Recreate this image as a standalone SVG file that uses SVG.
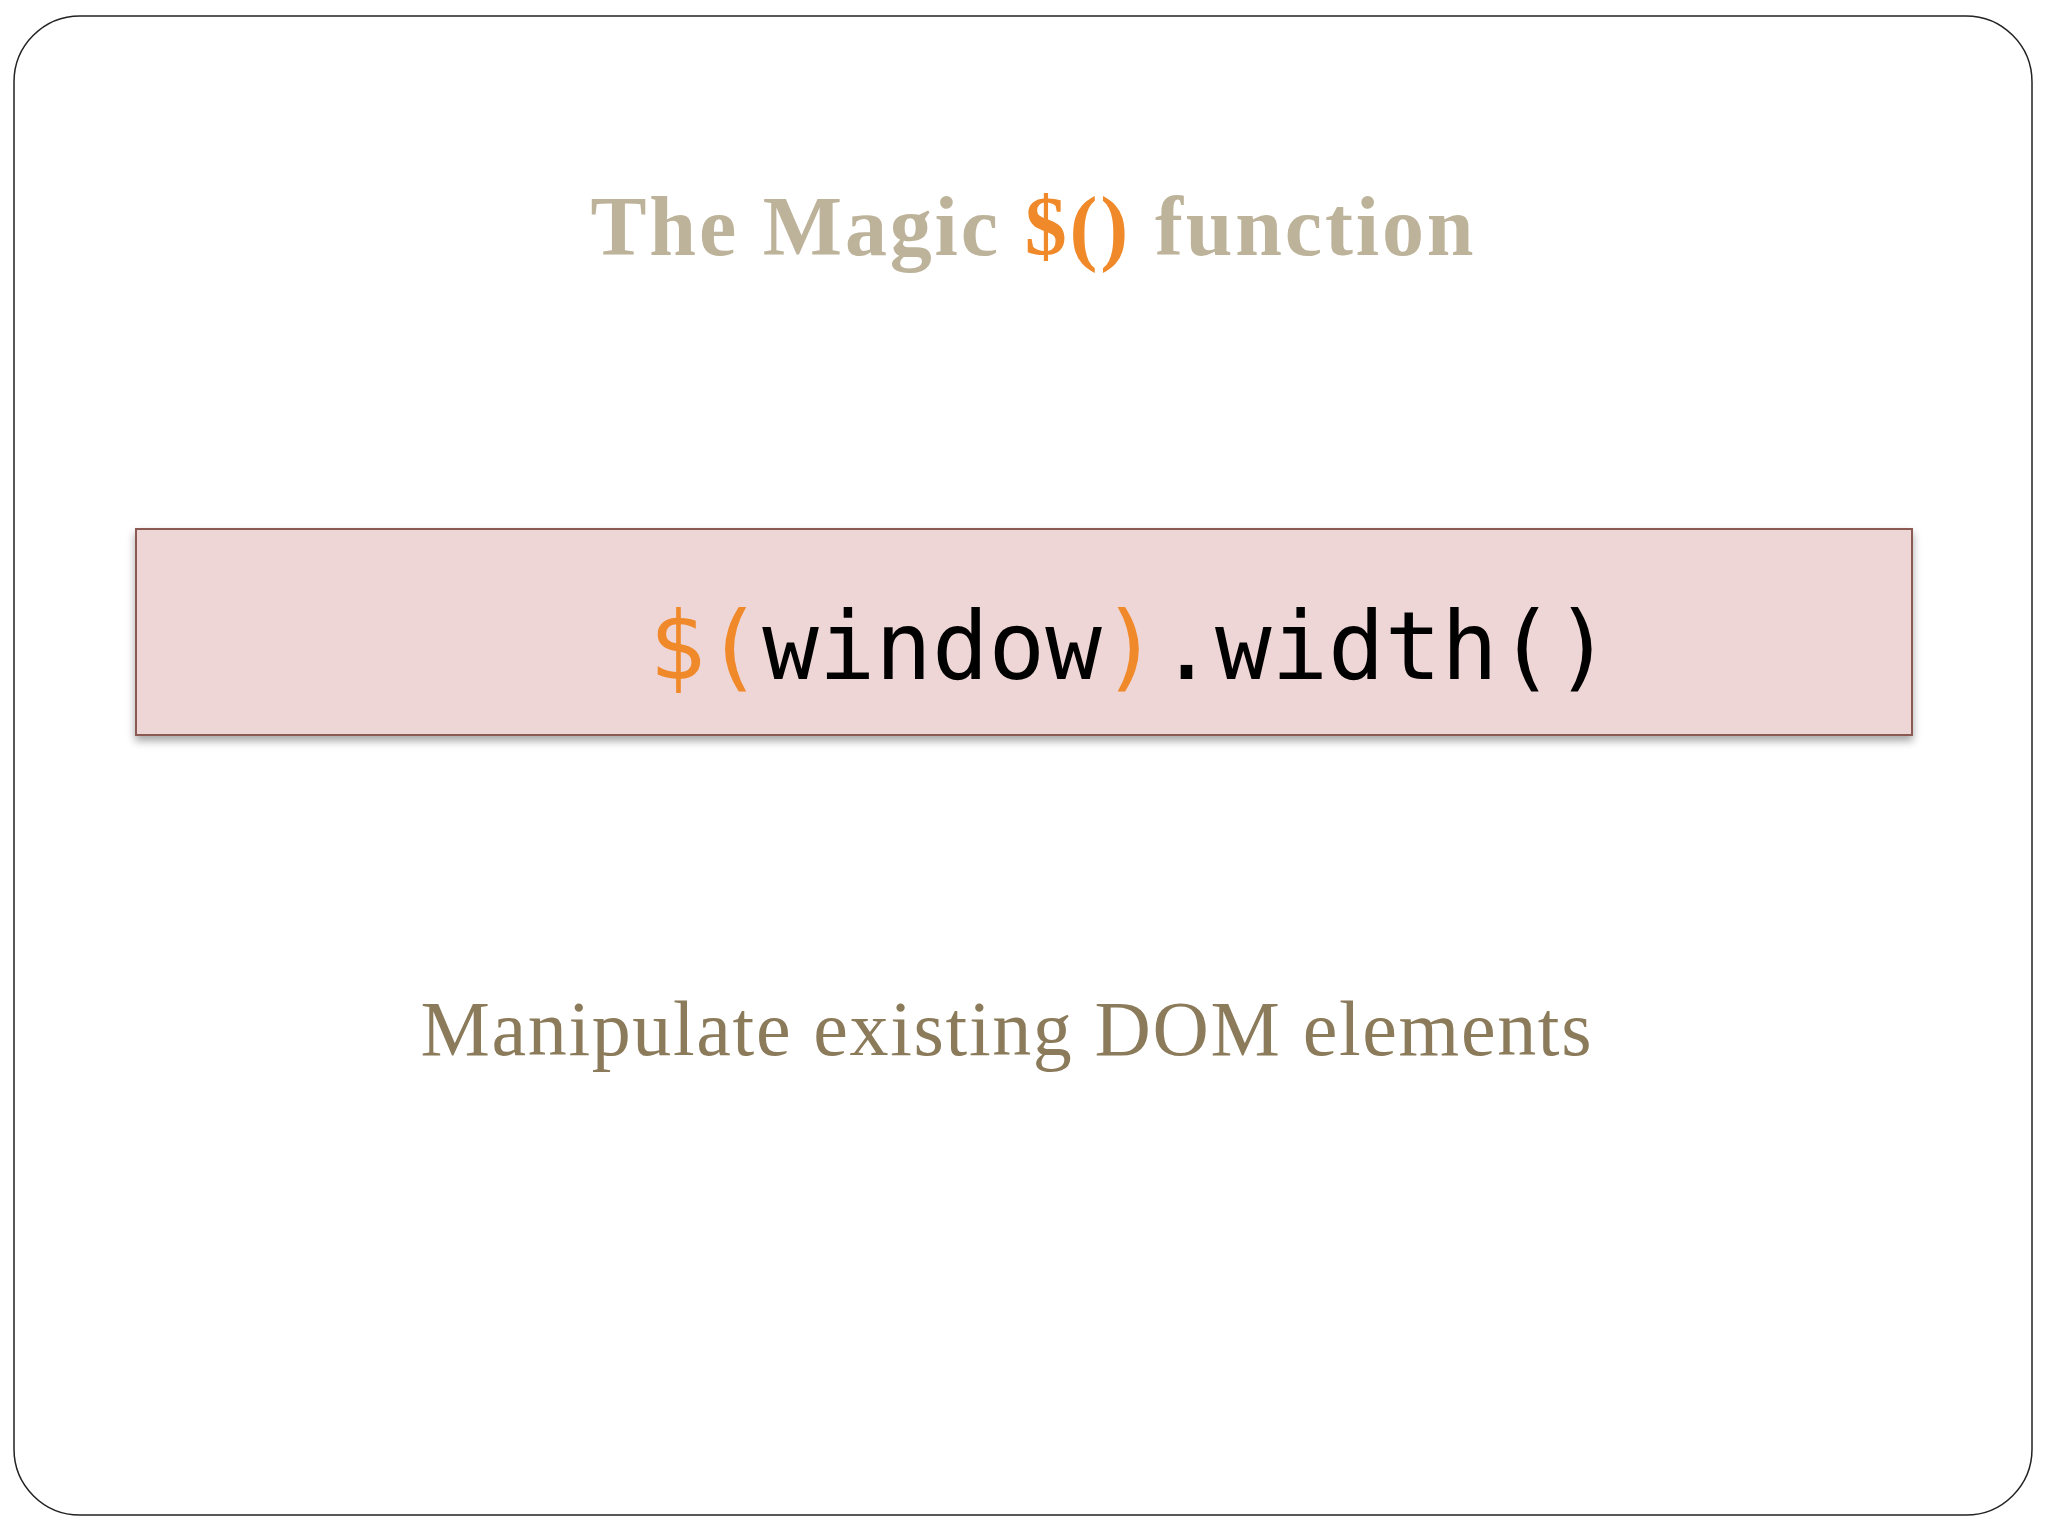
<svg xmlns="http://www.w3.org/2000/svg" width="2048" height="1536" viewBox="0 0 2048 1536">
<defs>
<filter id="sh" x="-5%" y="-20%" width="110%" height="140%"><feDropShadow dx="0" dy="5" stdDeviation="4" flood-color="#000" flood-opacity="0.35"/></filter>
</defs>
<style>
.o{fill:#F0892A}
</style>
<rect x="0" y="0" width="2048" height="1536" fill="#fff"/>
<rect x="14" y="16" width="2018" height="1499" rx="66" fill="#fff" stroke="#222" stroke-width="1.5"/>
<g id="title">
<text x="1032" y="255" text-anchor="middle" font-family="Liberation Serif, serif" font-weight="bold" font-size="84" fill="#BDB39A" textLength="883">The Magic <tspan class="o">$()</tspan> function</text>
</g>
<g id="codebox">
<rect x="136" y="529" width="1776" height="206" fill="#EFD6D6" stroke="#8B5A52" stroke-width="2" filter="url(#sh)"/>
<text x="649" y="679" font-family="DejaVu Sans Mono, monospace" font-size="94" fill="#000"><tspan class="o">$(</tspan>window<tspan class="o">)</tspan>.width()</text>
</g>
<g id="subtitle">
<text x="1006" y="1055" text-anchor="middle" font-family="Liberation Serif, serif" font-size="78" fill="#8B7B5A" textLength="1171">Manipulate existing DOM elements</text>
</g>
</svg>
